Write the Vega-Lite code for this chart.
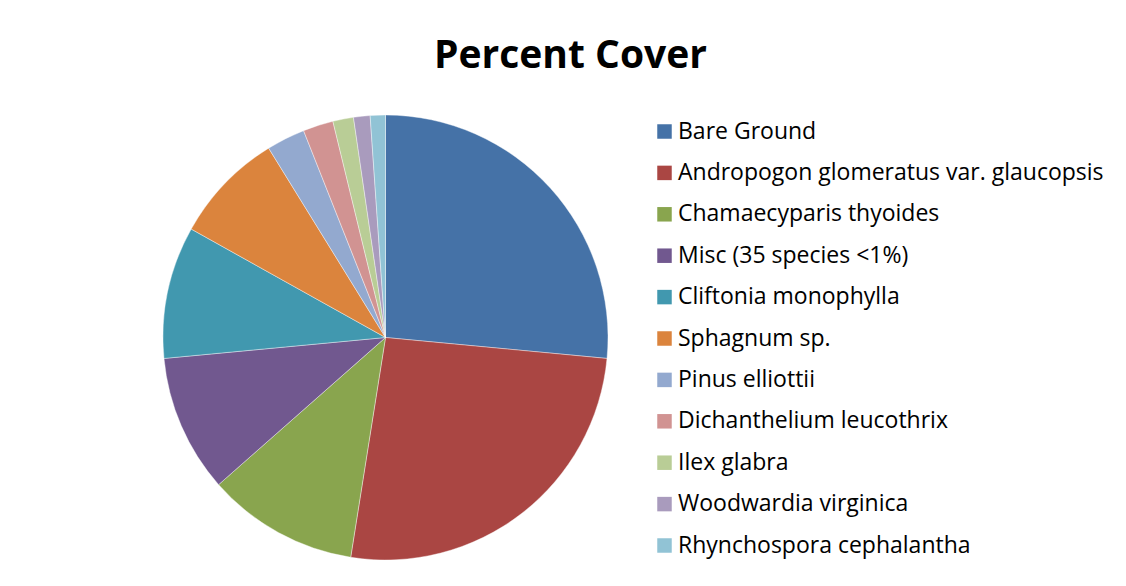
{
  "$schema": "https://vega.github.io/schema/vega-lite/v6.json",
  "autosize": {"type": "none"},
  "width": 445,
  "height": 445,
  "padding": {"left": 163, "top": 115, "right": 518, "bottom": 26},
  "background": "#ffffff",
  "title": {
    "text": "Percent Cover",
    "font": "Open Sans",
    "fontSize": 39,
    "fontWeight": "bold",
    "color": "#000000",
    "anchor": "middle",
    "frame": "group",
    "dx": 185,
    "baseline": "alphabetic",
    "offset": 7
  },
  "data": {
    "values": [
      {"i": 1, "species": "Bare Ground", "cover": 26.5},
      {"i": 2, "species": "Andropogon glomeratus var. glaucopsis", "cover": 26.0},
      {"i": 3, "species": "Chamaecyparis thyoides", "cover": 11.0},
      {"i": 4, "species": "Misc (35 species <1%)", "cover": 10.0},
      {"i": 5, "species": "Cliftonia monophylla", "cover": 9.6},
      {"i": 6, "species": "Sphagnum sp.", "cover": 8.1},
      {"i": 7, "species": "Pinus elliottii", "cover": 2.8},
      {"i": 8, "species": "Dichanthelium leucothrix", "cover": 2.2},
      {"i": 9, "species": "Ilex glabra", "cover": 1.5},
      {"i": 10, "species": "Woodwardia virginica", "cover": 1.2},
      {"i": 11, "species": "Rhynchospora cephalantha", "cover": 1.1}
    ]
  },
  "mark": {"type": "arc", "stroke": "#ffffff", "strokeWidth": 0.4},
  "encoding": {
    "theta": {"field": "cover", "type": "quantitative", "stack": true},
    "order": {"field": "i", "type": "quantitative"},
    "color": {
      "field": "species",
      "type": "nominal",
      "sort": null,
      "scale": {
        "domain": ["Bare Ground", "Andropogon glomeratus var. glaucopsis", "Chamaecyparis thyoides", "Misc (35 species <1%)", "Cliftonia monophylla", "Sphagnum sp.", "Pinus elliottii", "Dichanthelium leucothrix", "Ilex glabra", "Woodwardia virginica", "Rhynchospora cephalantha"],
        "range": ["#4572A7", "#AA4643", "#89A54E", "#71588F", "#4198AF", "#DB843D", "#93A9CF", "#D19392", "#B9CD96", "#A99BBD", "#91C3D5"]
      },
      "legend": {
        "title": null,
        "orient": "none",
        "legendX": 490,
        "legendY": 5,
        "padding": 0,
        "symbolType": "square",
        "symbolSize": 210,
        "symbolStrokeWidth": 0,
        "symbolOpacity": 1,
        "labelFont": "Open Sans",
        "labelFontSize": 23,
        "labelColor": "#000000",
        "labelOffset": 2,
        "labelLimit": 600,
        "rowPadding": 17.4
      }
    }
  },
  "config": {"view": {"stroke": null}}
}
